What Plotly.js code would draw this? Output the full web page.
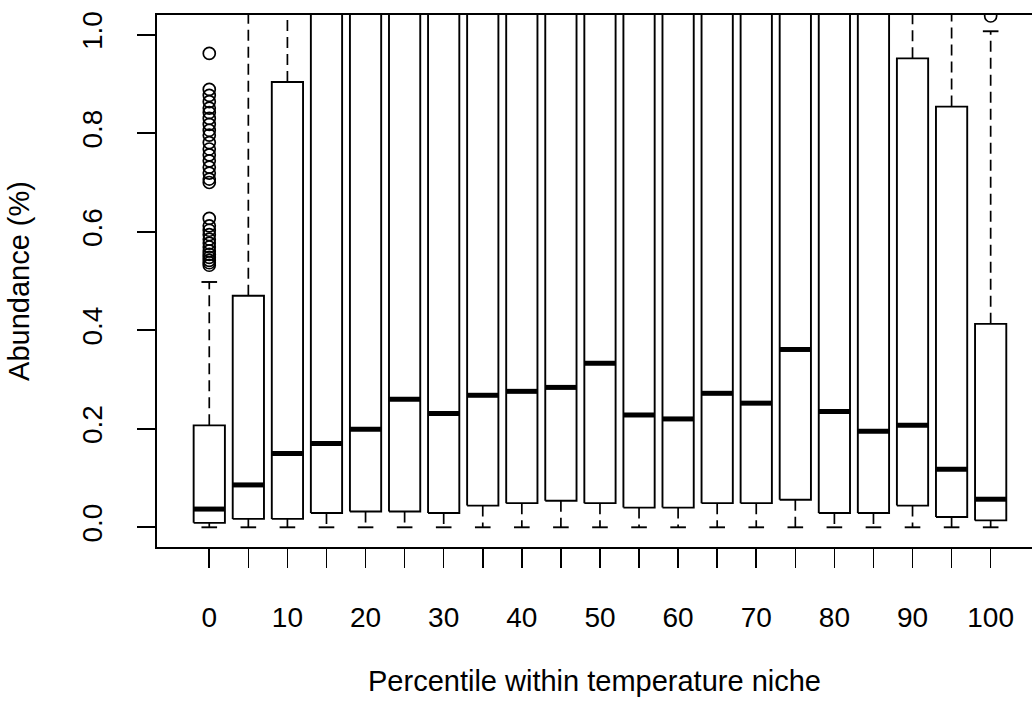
<!DOCTYPE html>
<html>
<head>
<meta charset="utf-8">
<script src="https://cdn.plot.ly/plotly-3.0.1.min.js"></script>
<style>html,body{margin:0;padding:0;background:#fff;}</style>
</head>
<body>
<div id="chart" style="width:1032px;height:701px;"></div>
<script>
// Percentile positions (categories)
const percentiles = [0, 5, 10, 15, 20, 25, 30, 35, 40, 45, 50, 55, 60, 65, 70, 75, 80, 85, 90, 95, 100];
const xTickLabels = ['0', '', '10', '', '20', '', '30', '', '40', '', '50', '', '60', '', '70', '', '80', '', '90', '', '100'];
const yTickValues = [0, 0.2, 0.4, 0.6, 0.8, 1.0];
const yTickLabels = ['0.0', '0.2', '0.4', '0.6', '0.8', '1.0'];

// Box statistics (values above the top of the plot are estimates)
const lowerWhisker = [0, 0, 0, 0, 0, 0, 0, 0, 0, 0, 0, 0, 0, 0, 0, 0, 0, 0, 0, 0, 0];
const q1 = [0.009, 0.017, 0.017, 0.029, 0.032, 0.032, 0.029, 0.044, 0.049, 0.054, 0.049, 0.040, 0.040, 0.049, 0.049, 0.056, 0.029, 0.029, 0.044, 0.021, 0.014];
const medians = [0.037, 0.086, 0.150, 0.170, 0.199, 0.260, 0.231, 0.268, 0.276, 0.284, 0.333, 0.228, 0.220, 0.272, 0.252, 0.361, 0.235, 0.195, 0.207, 0.118, 0.057];
const q3 = [0.207, 0.470, 0.904, 1.15, 1.20, 1.30, 1.25, 1.35, 1.40, 1.40, 1.50, 1.30, 1.25, 1.35, 1.30, 1.60, 1.20, 1.10, 0.952, 0.854, 0.413];
const upperWhisker = [0.498, 1.6, 2.0, 2.5, 2.6, 2.8, 2.7, 3.0, 3.0, 3.0, 3.2, 2.8, 2.7, 3.0, 2.9, 3.4, 2.6, 2.4, 2.2, 1.9, 1.007];

// Outliers
const outlierX = [0, 0, 0, 0, 0, 0, 0, 0, 0, 0, 0, 0, 0, 0, 0, 0, 0, 0, 0, 0, 0, 0, 0, 0, 0, 0, 0, 0, 0, 0, 0, 100];
const outlierY = [0.962, 0.889, 0.877, 0.864, 0.851, 0.842, 0.830, 0.818, 0.806, 0.796, 0.781, 0.768, 0.756, 0.744, 0.731, 0.719, 0.707, 0.700,
                  0.627, 0.612, 0.603, 0.594, 0.585, 0.577, 0.569, 0.561, 0.554, 0.548, 0.542, 0.537, 0.532, 1.038];

const boxHalf = 2;     // half box width in x units
const stapleHalf = 1;  // half staple width in x units

const boxX = [], boxY = [], medX = [], medY = [], whX = [], whY = [], stX = [], stY = [];
percentiles.forEach((p, i) => {
  boxX.push(p - boxHalf, p + boxHalf, p + boxHalf, p - boxHalf, p - boxHalf, null);
  boxY.push(q1[i], q1[i], q3[i], q3[i], q1[i], null);
  medX.push(p - boxHalf, p + boxHalf, null);
  medY.push(medians[i], medians[i], null);
  whX.push(p, p, null, p, p, null);
  whY.push(q3[i], upperWhisker[i], null, q1[i], lowerWhisker[i], null);
  stX.push(p - stapleHalf, p + stapleHalf, null, p - stapleHalf, p + stapleHalf, null);
  stY.push(upperWhisker[i], upperWhisker[i], null, lowerWhisker[i], lowerWhisker[i], null);
});

const black = '#000000';
const traces = [
  {type: 'scatter', mode: 'lines', x: whX, y: whY, line: {color: black, width: 1.7, dash: '11px,6px'}, hoverinfo: 'skip'},
  {type: 'scatter', mode: 'lines', x: stX, y: stY, line: {color: black, width: 1.9}, hoverinfo: 'skip'},
  {type: 'scatter', mode: 'lines', x: boxX, y: boxY, line: {color: black, width: 1.9}, hoverinfo: 'skip'},
  {type: 'scatter', mode: 'lines', x: medX, y: medY, line: {color: black, width: 5}, hoverinfo: 'skip'},
  {type: 'scatter', mode: 'markers', x: outlierX, y: outlierY,
   marker: {symbol: 'circle-open', size: 12, color: black, line: {width: 1.7, color: black}}, hoverinfo: 'skip'}
];

const fontFamily = 'Liberation Sans, Arial, sans-serif';
const layout = {
  width: 1032, height: 701,
  margin: {l: 157, r: 0, t: 15, b: 154, pad: 0},
  paper_bgcolor: '#ffffff', plot_bgcolor: '#ffffff',
  showlegend: false,
  font: {family: fontFamily, size: 28, color: black},
  xaxis: {
    range: [-6.69, 105.29],
    tickmode: 'array', tickvals: percentiles, ticktext: xTickLabels,
    ticks: 'outside', ticklen: 19, tickwidth: 1.6, tickcolor: black,
    showline: true, mirror: true, linecolor: black, linewidth: 1.6,
    showgrid: false, zeroline: false,
    ticklabelstandoff: 26,
    tickfont: {family: fontFamily, size: 28, color: black},
    title: {text: 'Percentile within temperature niche', font: {family: fontFamily, size: 29, color: black}, standoff: 38}
  },
  yaxis: {
    range: [-0.04, 1.04],
    tickmode: 'array', tickvals: yTickValues, ticktext: yTickLabels,
    tickangle: -90,
    ticks: 'outside', ticklen: 18, tickwidth: 1.6, tickcolor: black,
    showline: true, mirror: false, linecolor: black, linewidth: 1.6,
    showgrid: false, zeroline: false,
    ticklabelstandoff: 24,
    tickfont: {family: fontFamily, size: 28, color: black},
    title: {text: 'Abundance (%)', font: {family: fontFamily, size: 29, color: black}, standoff: 39}
  }
};

Plotly.newPlot('chart', traces, layout, {displayModeBar: false, staticPlot: true});
</script>
</body>
</html>
